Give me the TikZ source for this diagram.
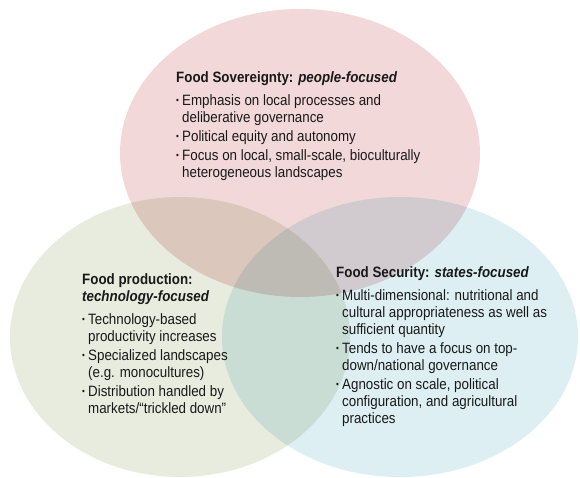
\documentclass[tikz,border=0pt]{standalone}
\usepackage{fontspec}
\setmainfont{Liberation Sans}[FakeStretch=0.89]
\usetikzlibrary{shapes.geometric}

\definecolor{sovpink}{RGB}{242,216,217}
\definecolor{prodgreen}{RGB}{232,236,223}
\definecolor{secblue}{RGB}{221,239,243}
\definecolor{textgrey}{RGB}{25,25,25}

\newcommand{\bul}{\makebox[6pt][l]{\raisebox{1.5pt}{\small\textbullet}}}
\newcommand{\ind}{\hspace*{6pt}}

\begin{document}
\begin{tikzpicture}[x=1pt, y=-1pt,
  circ/.style = {ellipse, inner sep=0pt, draw=none},
  sovcirc/.style = {circ, fill=sovpink, minimum width=360pt, minimum height=288pt},
  prodcirc/.style = {circ, fill=prodgreen, minimum width=340pt, minimum height=280pt},
  seccirc/.style = {circ, fill=secblue, minimum width=356pt, minimum height=280pt},
  txt/.style = {align=left, inner sep=0pt, anchor=north west, text=textgrey,
    font=\fontsize{15}{17}\selectfont}
  ]
  \useasboundingbox (0,0) rectangle (580,478);

  \begin{scope}[blend group=multiply]
    \node (sovE)  [sovcirc]  at (300,153) {};
    \node (prodE) [prodcirc] at (180,337) {};
    \node (secE)  [seccirc]  at (400,337) {};
  \end{scope}

  \node (sov) [txt] at (176,71) {\textbf{Food Sovereignty: \textit{people-focused}}\\[6pt]
    \bul Emphasis on local processes and\\
    \ind deliberative governance\\[2pt]
    \bul Political equity and autonomy\\[2pt]
    \bul Focus on local, small-scale, bioculturally\\
    \ind heterogeneous landscapes};

  \node (prod) [txt] at (82,273) {\textbf{Food production:}\\
    \textbf{\textit{technology-focused}}\\[6pt]
    \bul Technology-based\\
    \ind productivity increases\\[2pt]
    \bul Specialized landscapes\\
    \ind (e.g. monocultures)\\[2pt]
    \bul Distribution handled by\\
    \ind markets/“trickled down”};

  \node (sec) [txt] at (336,266) {\textbf{Food Security: \textit{states-focused}}\\[6pt]
    \bul Multi-dimensional: nutritional and\\
    \ind cultural appropriateness as well as\\
    \ind sufficient quantity\\[2pt]
    \bul Tends to have a focus on top-\\
    \ind down/national governance\\[2pt]
    \bul Agnostic on scale, political\\
    \ind configuration, and agricultural\\
    \ind practices};
\end{tikzpicture}
\end{document}
